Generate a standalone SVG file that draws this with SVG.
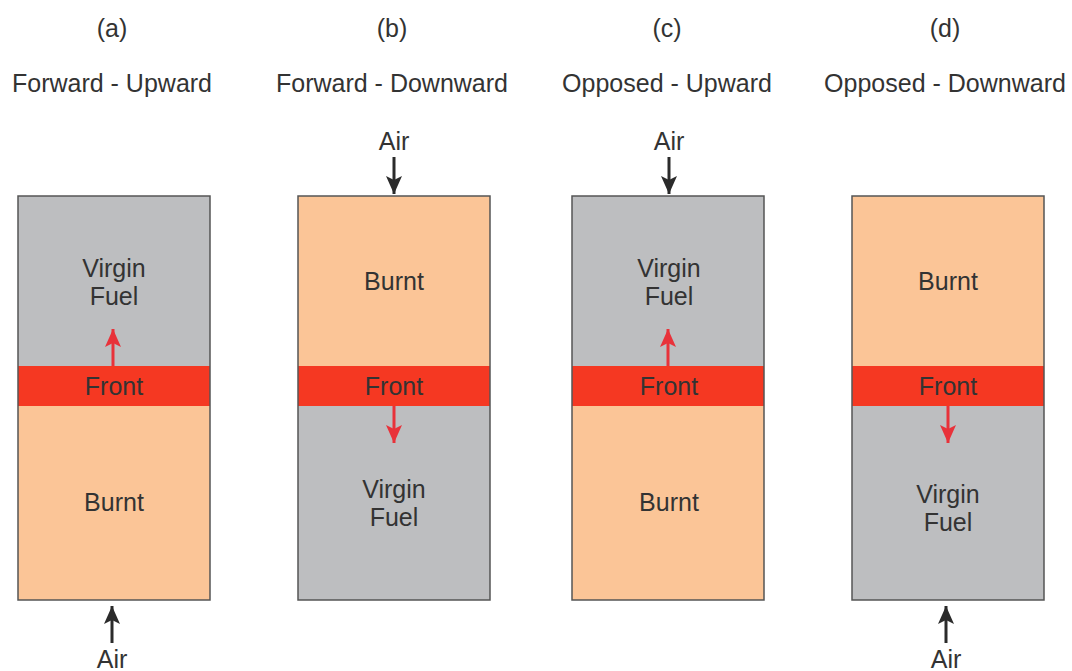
<svg xmlns="http://www.w3.org/2000/svg" width="1072" height="671" viewBox="0 0 1072 671">
<defs>
<marker id="ah" markerWidth="18" markerHeight="16" refX="18" refY="8" orient="auto" markerUnits="userSpaceOnUse"><path d="M0,0 L18,8 L0,16 L4,8 Z" fill="#2b2b2b"/></marker>
<marker id="rh" markerWidth="18" markerHeight="16" refX="18" refY="8" orient="auto" markerUnits="userSpaceOnUse"><path d="M0,0 L18,8 L0,16 L4,8 Z" fill="#e8323a"/></marker>
</defs>
<style>
text{font-family:"Liberation Sans",Arial,sans-serif;fill:#333;text-anchor:middle}
.t{font-size:25px}
.l{font-size:25px}
.gray{fill:#bdbec0}
.peach{fill:#fbc597}
.front{fill:#f53822}
.box{fill:none;stroke:#555;stroke-width:1.5}
.air{stroke:#2b2b2b;stroke-width:3;fill:none}
.red{stroke:#e8323a;stroke-width:3;fill:none}
</style>
<g id="titles">
<text class="t" x="112" y="92">Forward - Upward</text>
<text class="t" x="112" y="37">(a)</text>
<text class="t" x="392" y="37">(b)</text>
<text class="t" x="392" y="92">Forward - Downward</text>
<text class="t" x="667" y="37">(c)</text>
<text class="t" x="667" y="92">Opposed - Upward</text>
<text class="t" x="945" y="37">(d)</text>
<text class="t" x="945" y="92">Opposed - Downward</text>
</g>
<g id="a">
<rect class="gray" x="18" y="196" width="192" height="170"/>
<rect class="front" x="18" y="366" width="192" height="40"/>
<rect class="peach" x="18" y="406" width="192" height="194"/>
<rect class="box" x="18" y="196" width="192" height="404"/>
<text class="l" x="114" y="277">Virgin</text>
<text class="l" x="114" y="305">Fuel</text>
<text class="l" x="114" y="395">Front</text>
<text class="l" x="114" y="511">Burnt</text>
</g>
<g id="b">
<rect class="peach" x="298" y="196" width="192" height="170"/>
<rect class="front" x="298" y="366" width="192" height="40"/>
<rect class="gray" x="298" y="406" width="192" height="194"/>
<rect class="box" x="298" y="196" width="192" height="404"/>
<text class="l" x="394" y="290">Burnt</text>
<text class="l" x="394" y="395">Front</text>
<text class="l" x="394" y="498">Virgin</text>
<text class="l" x="394" y="526">Fuel</text>
<text class="l" x="394" y="150">Air</text>
</g>
<g id="c">
<rect class="gray" x="572" y="196" width="192" height="170"/>
<rect class="front" x="572" y="366" width="192" height="40"/>
<rect class="peach" x="572" y="406" width="192" height="194"/>
<rect class="box" x="572" y="196" width="192" height="404"/>
<text class="l" x="669" y="277">Virgin</text>
<text class="l" x="669" y="305">Fuel</text>
<text class="l" x="669" y="395">Front</text>
<text class="l" x="669" y="511">Burnt</text>
<text class="l" x="669" y="150">Air</text>
</g>
<g id="d">
<rect class="peach" x="852" y="196" width="192" height="170"/>
<rect class="front" x="852" y="366" width="192" height="40"/>
<rect class="gray" x="852" y="406" width="192" height="194"/>
<rect class="box" x="852" y="196" width="192" height="404"/>
<text class="l" x="948" y="290">Burnt</text>
<text class="l" x="948" y="395">Front</text>
<text class="l" x="948" y="503">Virgin</text>
<text class="l" x="948" y="531">Fuel</text>
<text class="l" x="946" y="668">Air</text>
</g>
<g id="a-air"><text class="l" x="112" y="668">Air</text></g>
<g id="connectors">
<line class="air" x1="112" y1="643" x2="112" y2="606" marker-end="url(#ah)"/>
<line class="air" x1="394" y1="157" x2="394" y2="194" marker-end="url(#ah)"/>
<line class="air" x1="669" y1="157" x2="669" y2="194" marker-end="url(#ah)"/>
<line class="air" x1="946" y1="643" x2="946" y2="606" marker-end="url(#ah)"/>
<line class="red" x1="113" y1="366" x2="113" y2="329" marker-end="url(#rh)"/>
<line class="red" x1="394" y1="406" x2="394" y2="443" marker-end="url(#rh)"/>
<line class="red" x1="668" y1="366" x2="668" y2="329" marker-end="url(#rh)"/>
<line class="red" x1="948" y1="406" x2="948" y2="443" marker-end="url(#rh)"/>
</g>
</svg>
